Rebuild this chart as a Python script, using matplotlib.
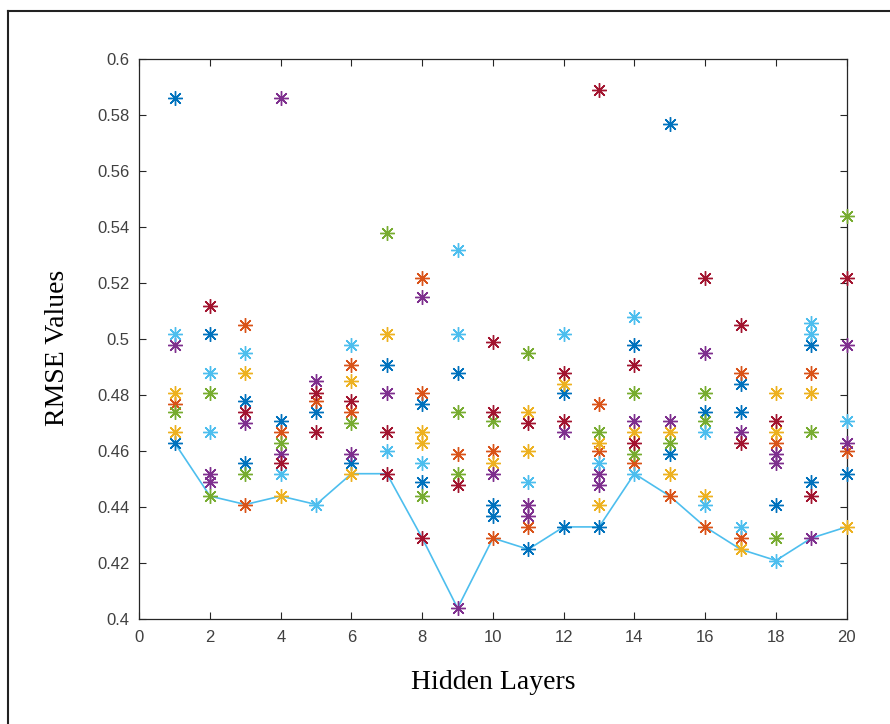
import matplotlib
matplotlib.use("Agg")
import matplotlib.pyplot as plt
from matplotlib.lines import Line2D

# RMSE per hidden-layer count, grouped by the (MATLAB default) colour of each run
blue_x = [1, 1, 2, 3, 3, 4, 5, 6, 7, 8, 8, 9, 10, 10, 11, 12, 12, 13, 14, 15, 15, 16, 17, 17, 18, 19, 19, 20]
blue_y = [0.586, 0.463, 0.502, 0.478, 0.456, 0.471, 0.474, 0.456, 0.491, 0.477, 0.449, 0.488, 0.441, 0.437,
          0.425, 0.481, 0.433, 0.433, 0.498, 0.577, 0.459, 0.474, 0.484, 0.474, 0.441, 0.498, 0.449, 0.452]

orange_x = [1, 3, 3, 4, 5, 6, 6, 8, 8, 9, 10, 10, 11, 13, 13, 14, 15, 16, 17, 17, 18, 19, 20]
orange_y = [0.477, 0.505, 0.441, 0.467, 0.478, 0.491, 0.474, 0.522, 0.481, 0.459, 0.460, 0.429, 0.433,
            0.477, 0.460, 0.456, 0.444, 0.433, 0.488, 0.429, 0.463, 0.488, 0.460]

yellow_x = [1, 1, 3, 4, 6, 6, 7, 8, 8, 10, 11, 11, 12, 13, 13, 14, 15, 15, 16, 17, 18, 18, 19, 20]
yellow_y = [0.481, 0.467, 0.488, 0.444, 0.485, 0.452, 0.502, 0.467, 0.463, 0.456, 0.474, 0.460, 0.484,
            0.463, 0.441, 0.467, 0.467, 0.452, 0.444, 0.425, 0.481, 0.467, 0.481, 0.433]

purple_x = [1, 2, 2, 3, 4, 4, 5, 6, 7, 8, 9, 10, 11, 11, 12, 13, 13, 14, 15, 16, 17, 18, 18, 19, 20, 20]
purple_y = [0.498, 0.452, 0.449, 0.470, 0.586, 0.459, 0.485, 0.459, 0.481, 0.515, 0.404, 0.452, 0.441,
            0.437, 0.467, 0.452, 0.448, 0.471, 0.471, 0.495, 0.467, 0.459, 0.456, 0.429, 0.498, 0.463]

green_x = [1, 2, 2, 3, 4, 6, 7, 8, 9, 9, 10, 11, 13, 14, 14, 15, 16, 16, 18, 19, 20]
green_y = [0.474, 0.481, 0.444, 0.452, 0.463, 0.470, 0.538, 0.444, 0.474, 0.452, 0.471, 0.495, 0.467,
           0.481, 0.459, 0.463, 0.481, 0.471, 0.429, 0.467, 0.544]

lightblue_x = [1, 2, 2, 3, 4, 5, 6, 7, 8, 9, 9, 11, 12, 13, 14, 14, 16, 16, 17, 18, 19, 19, 20]
lightblue_y = [0.502, 0.488, 0.467, 0.495, 0.452, 0.441, 0.498, 0.460, 0.456, 0.532, 0.502, 0.449, 0.502,
               0.456, 0.508, 0.452, 0.467, 0.441, 0.433, 0.421, 0.506, 0.502, 0.471]

darkred_x = [2, 3, 4, 5, 5, 6, 7, 7, 8, 9, 10, 10, 11, 12, 12, 13, 14, 14, 16, 17, 17, 18, 19, 20]
darkred_y = [0.512, 0.474, 0.456, 0.481, 0.467, 0.478, 0.467, 0.452, 0.429, 0.448, 0.499, 0.474, 0.470,
             0.488, 0.471, 0.589, 0.491, 0.463, 0.522, 0.505, 0.463, 0.471, 0.444, 0.522]

groups = [
    (blue_x, blue_y, "#0072BD"),
    (orange_x, orange_y, "#D95319"),
    (yellow_x, yellow_y, "#EDB120"),
    (purple_x, purple_y, "#7E2F8E"),
    (green_x, green_y, "#77AC30"),
    (lightblue_x, lightblue_y, "#4DBEEE"),
    (darkred_x, darkred_y, "#A2142F"),
]

layers = list(range(1, 21))

# best (lowest) RMSE for each layer count
best = []
for n in layers:
    vals = []
    for gx, gy, c in groups:
        vals += [v for x, v in zip(gx, gy) if x == n]
    best.append(min(vals))

fig = plt.figure(figsize=(8.9, 7.24), dpi=100)
ax = fig.add_axes([0.1565, 0.1446, 0.7948, 0.7735])

ax.plot(layers, best, color="#4DBEEE", lw=1.2, zorder=2)

asterisk = (8, 2, 0)
for gx, gy, c in groups:
    ax.plot(gx, gy, ls="none", marker=asterisk, ms=10.5, mew=1.0, mec=c, color=c,
            zorder=3, clip_on=False)

ax.set_xlim(0, 20)
ax.set_ylim(0.4, 0.6)
ax.set_xticks(range(0, 21, 2))
ax.set_yticks([0.4, 0.42, 0.44, 0.46, 0.48, 0.5, 0.52, 0.54, 0.56, 0.58, 0.6])
ax.set_yticklabels(["0.4", "0.42", "0.44", "0.46", "0.48", "0.5", "0.52", "0.54", "0.56", "0.58", "0.6"])

ax.tick_params(direction="in", top=True, right=True, length=5, width=0.8, colors="#262626",
               labelsize=12)
ax.tick_params(axis="y", pad=7)
ax.tick_params(axis="x", pad=8)
for lab in ax.get_xticklabels() + ax.get_yticklabels():
    lab.set_fontfamily("Liberation Sans")
    lab.set_color("#404040")
for s in ax.spines.values():
    s.set_color("#262626")
    s.set_linewidth(0.9)

ax.set_xlabel("Hidden Layers", fontfamily="Liberation Serif", fontsize=20, labelpad=18)
ax.set_ylabel("RMSE Values", fontfamily="Liberation Serif", fontsize=20, labelpad=20)
ax.yaxis.set_label_coords(-0.098, 0.485)

# page frame around the figure
fig.add_artist(Line2D([8 / 890, 8 / 890], [0, 1 - 11 / 724], color="#222222", lw=1.5))
fig.add_artist(Line2D([8 / 890, 1], [1 - 11 / 724, 1 - 11 / 724], color="#222222", lw=1.5))

fig.savefig("out.png", dpi=100)
